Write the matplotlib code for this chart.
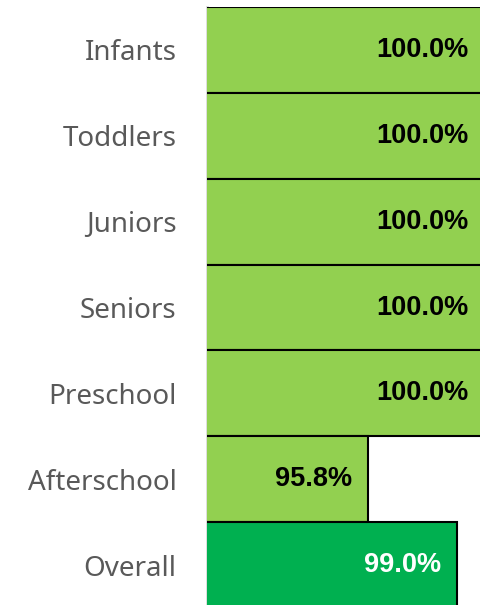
import matplotlib
matplotlib.use("Agg")
import matplotlib.pyplot as plt
from matplotlib.transforms import offset_copy

categories = ["Infants", "Toddlers", "Juniors", "Seniors", "Preschool", "Afterschool", "Overall"]
values = [100.0, 100.0, 100.0, 100.0, 100.0, 95.8, 99.0]
labels = ["100.0%", "100.0%", "100.0%", "100.0%", "100.0%", "95.8%", "99.0%"]

W, H = 481, 605
fig = plt.figure(figsize=(W / 100, H / 100), dpi=100)
left_px, right_px, top_px, bottom_px = 207, 485, 7, 608
ax = fig.add_axes([left_px / W, 1 - bottom_px / H, (right_px - left_px) / W, (bottom_px - top_px) / H])

light = "#92D050"
dark = "#00B050"
colors = [light] * 6 + [dark]
text_colors = ["black"] * 6 + ["white"]

ypos = list(range(len(categories)))
ax.barh(ypos, values, height=1.0, left=0, color=colors, edgecolor="black", linewidth=1.5, zorder=2)
ax.set_xlim(90, 100)
ax.set_ylim(len(categories) - 0.5, -0.5)

for y, v, lab, tc in zip(ypos, values, labels, text_colors):
    tr = offset_copy(ax.transData, fig=fig, x=-16, y=0, units="dots")
    ax.text(v, y, lab, transform=tr, ha="right", va="center", fontsize=19.5,
            fontweight="bold", color=tc, family="Liberation Sans", zorder=3)

ax.set_yticks(ypos)
ax.set_yticklabels(categories, fontsize=20, color="#595959", family="Noto Sans")
ax.tick_params(axis="y", length=0, pad=22)
ax.set_xticks([])
for s in ["top", "right", "bottom"]:
    ax.spines[s].set_visible(False)
ax.spines["left"].set_color("#D9D9D9")
ax.spines["left"].set_linewidth(2)
ax.spines["left"].set_zorder(1)
ax.set_facecolor("white")

fig.savefig("out.png", dpi=100)
